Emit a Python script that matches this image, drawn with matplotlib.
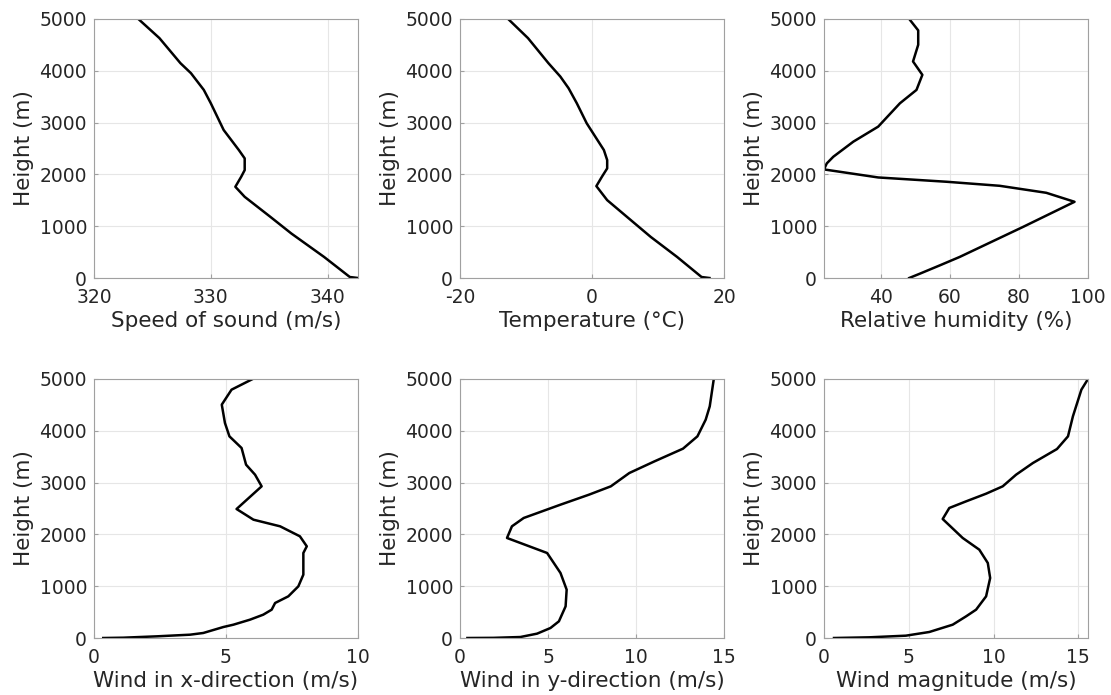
import matplotlib
matplotlib.use("Agg")
import matplotlib.pyplot as plt
import numpy as np

# ── data ─────────────────────────────────────────────────────────────────────

sound_c = [323.8, 325.6, 327.4, 328.3, 329.4, 330.0, 331.1, 332.4, 332.9, 332.9,
           332.6, 332.1, 332.9, 335.1, 336.9, 339.7, 341.9, 342.6]
sound_h = [5000, 4631, 4147, 3954, 3631, 3373, 2857, 2470, 2309, 2083,
           1954, 1761, 1567, 1180, 858, 406, 19, 0]

temp_t = [-12.7, -9.7, -6.6, -4.8, -3.55, -2.3, -0.8, 1.8, 2.3, 2.3, 1.5, 0.66,
          2.3, 5.3, 8.9, 12.9, 16.6, 17.8]
temp_h = [5000, 4631, 4147, 3889, 3664, 3373, 2986, 2470, 2277, 2116, 1954, 1774,
          1503, 1180, 793, 406, 19, 0]

rh_v = [48.2, 50.8, 50.8, 49.3, 52.0, 50.3, 45.5, 39.2, 32.0, 26.2, 24.3, 23.5,
        39.2, 59.0, 74.4, 87.9, 96.1, 81.2, 62.8, 57.1, 51.3, 48.2]
rh_h = [5000, 4780, 4502, 4180, 3922, 3631, 3373, 2922, 2632, 2341, 2212, 2096,
        1941, 1858, 1780, 1645, 1471, 987, 406, 245, 84, 0]

wx_v = [6.01, 5.21, 4.84, 4.96, 5.13, 5.59, 5.76, 6.10, 6.35, 5.40, 6.04, 7.05,
        7.80, 8.06, 7.93, 7.93, 7.74, 7.36, 6.86, 6.73, 6.41, 5.91, 5.28, 4.90,
        4.14, 3.64, 2.37, 1.11, 0.35]
wx_h = [5000, 4794, 4505, 4151, 3893, 3668, 3346, 3153, 2928, 2490, 2284, 2156,
        1963, 1770, 1641, 1223, 997, 804, 676, 547, 450, 354, 257, 212,
        97, 64, 32, 6, 0]

wy_v = [14.42, 14.19, 13.96, 13.49, 12.67, 11.05, 9.62, 8.57, 7.33, 5.71, 3.62,
        2.95, 2.67, 4.95, 5.71, 6.06, 6.0, 5.62, 5.14, 4.38, 3.43, 1.9, 0.42]
wy_h = [5000, 4472, 4215, 3893, 3655, 3410, 3185, 2928, 2767, 2574, 2317,
        2156, 1931, 1641, 1255, 933, 611, 322, 193, 84, 19, 3, 0]

wm_v = [15.57, 15.18, 14.68, 14.39, 13.74, 12.32, 11.33, 10.54, 9.56, 8.38,
        7.39, 7.0, 8.18, 9.16, 9.66, 9.80, 9.56, 8.97, 8.38, 7.59, 6.21, 4.83,
        2.66, 0.59]
wm_h = [5000, 4794, 4279, 3893, 3648, 3378, 3153, 2928, 2786, 2638,
        2510, 2297, 1931, 1705, 1448, 1158, 804, 547, 418, 257, 116, 45,
        13, 0]

panels = [
    (sound_c, sound_h, "Speed of sound (m/s)", (320, 342.6), [320, 330, 340]),
    (temp_t, temp_h, "Temperature (°C)", (-20, 20), [-20, 0, 20]),
    (rh_v, rh_h, "Relative humidity (%)", (23.5, 100), [40, 60, 80, 100]),
    (wx_v, wx_h, "Wind in x-direction (m/s)", (0, 10), [0, 5, 10]),
    (wy_v, wy_h, "Wind in y-direction (m/s)", (0, 15), [0, 5, 10, 15]),
    (wm_v, wm_h, "Wind magnitude (m/s)", (0, 15.57), [0, 5, 10, 15]),
]

# ── plot ─────────────────────────────────────────────────────────────────────

plt.rcParams["axes.unicode_minus"] = False
plt.rcParams["font.family"] = "DejaVu Sans"
TXT = "#262626"

fig = plt.figure(figsize=(11.11, 6.95), dpi=100)
lefts = [94 / 1111, 460 / 1111, 824 / 1111]
bottoms = [(695 - 278) / 695, (695 - 638) / 695]
w, h = 264 / 1111, 259 / 695

for i, (xv, hv, xlabel, xlim, xticks) in enumerate(panels):
    ax = fig.add_axes([lefts[i % 3], bottoms[i // 3], w, h])
    ax.plot(xv, hv, color="black", lw=1.8)
    ax.set_xlim(*xlim)
    ax.set_ylim(0, 5000)
    ax.set_xticks(xticks)
    ax.set_yticks(np.arange(0, 5001, 1000))
    ax.grid(True, color="#e6e6e6", lw=0.8)
    ax.set_axisbelow(True)
    for s in ax.spines.values():
        s.set_color("#a0a0a0")
        s.set_linewidth(0.8)
    ax.tick_params(direction="in", length=3, color="#a0a0a0",
                   labelsize=13.5, labelcolor=TXT, top=False, right=False)
    ax.tick_params(axis="x", pad=7)
    ax.tick_params(axis="y", pad=5)
    ax.set_xlabel(xlabel, fontsize=15.5, color=TXT, labelpad=3)
    ax.set_ylabel("Height (m)", fontsize=15.5, color=TXT, labelpad=4)

fig.savefig("out.png", dpi=100)
